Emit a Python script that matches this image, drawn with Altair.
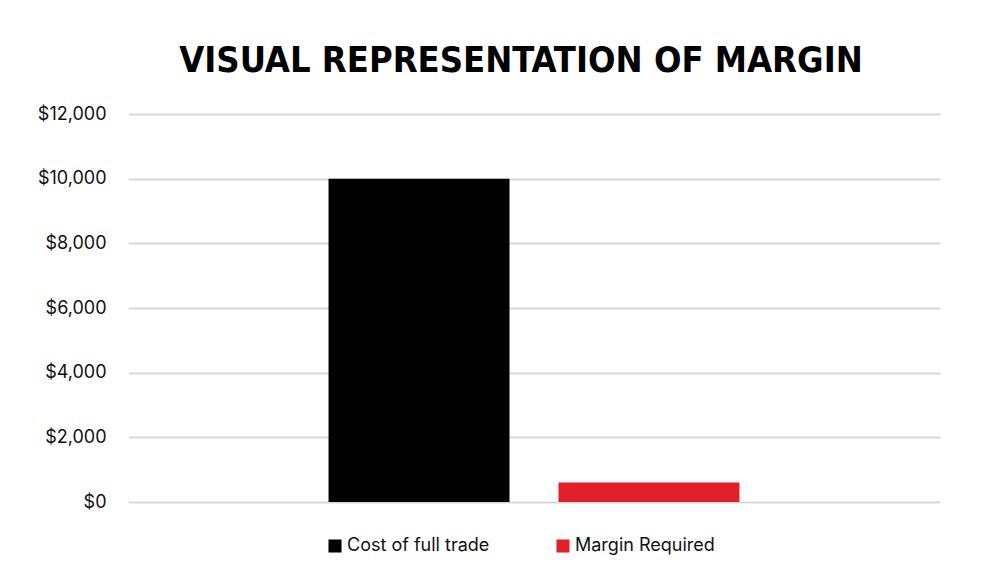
import altair as alt
import pandas as pd

series = ["Cost of full trade", "Margin Required"]
values = [10000, 600]
colors = ["#000000", "#e2202a"]
y_ticks = [0, 2000, 4000, 6000, 8000, 10000, 12000]

df = pd.DataFrame({"series": series, "value": values})

chart = alt.Chart(df).mark_bar().encode(
    x=alt.X("series:N", axis=None, sort=series,
            scale=alt.Scale(paddingInner=0.213, paddingOuter=0.872)),
    y=alt.Y("value:Q", scale=alt.Scale(domain=[0, 12000], nice=False),
            axis=alt.Axis(values=y_ticks, format="$,.0f", title=None, domain=False,
                          ticks=False, labelPadding=22, labelFont="Inter", labelFontSize=18,
                          labelColor="#111111", gridColor="#d9d9d9", gridWidth=2)),
    color=alt.Color("series:N", sort=series,
                    scale=alt.Scale(domain=series, range=colors),
                    legend=alt.Legend(title=None, orient="none", legendX=198, legendY=423,
                                      direction="horizontal", symbolType="square",
                                      symbolSize=170, symbolStrokeWidth=0, labelFont="Inter",
                                      labelFontSize=18, labelColor="#111111", labelOffset=3,
                                      columnPadding=64)),
).properties(
    width=812, height=388,
    autosize=alt.AutoSizeParams(type="none"),
    padding={"left": 120, "top": 106, "right": 52, "bottom": 71},
    title=alt.TitleParams("VISUAL REPRESENTATION OF MARGIN", font="DejaVu Sans Condensed",
                          fontSize=36, fontWeight="bold", color="#000000", anchor="middle",
                          dx=-13, offset=25),
).configure_view(stroke=None)

chart.save("out.html", embed_options={"renderer": "svg", "actions": False})
